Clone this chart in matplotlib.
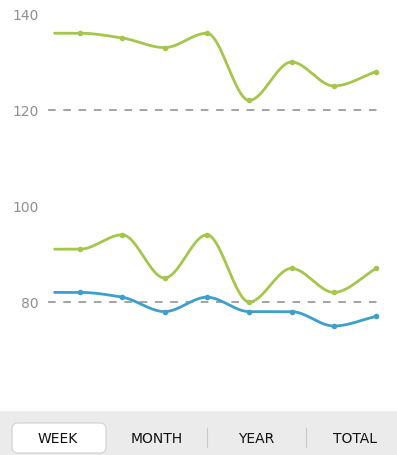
import numpy as np
import matplotlib.pyplot as plt
from matplotlib.patches import FancyBboxPatch, Rectangle

# data
x_idx = [0, 1, 2, 3, 4, 5, 6, 7]
upper_green = [136, 135, 133, 136, 122, 130, 125, 128]
lower_green = [91, 94, 85, 94, 80, 87, 82, 87]
blue = [82, 81, 78, 81, 78, 78, 75, 77]
y_ticks = [80, 100, 120, 140]
ref_lines = [80, 120]
tabs = ["WEEK", "MONTH", "YEAR", "TOTAL"]

GREEN = "#a4c64a"
BLUE = "#3d9fcc"
START = -0.6  # line starts a bit before the first point


def monotone(xs, ys, n=40):
    # Fritsch-Carlson monotone cubic, like d3 curveMonotoneX
    xs = np.asarray(xs, float)
    ys = np.asarray(ys, float)
    h = np.diff(xs)
    d = np.diff(ys) / h
    m = np.zeros_like(ys)
    m[0] = d[0]
    m[-1] = d[-1]
    for i in range(1, len(ys) - 1):
        if d[i - 1] * d[i] <= 0:
            m[i] = 0
        else:
            m[i] = 3 * (h[i - 1] + h[i]) / ((2 * h[i] + h[i - 1]) / d[i - 1] + (h[i] + 2 * h[i - 1]) / d[i])
    px, py = [], []
    for i in range(len(xs) - 1):
        t = np.linspace(0, 1, n)
        h00 = 2 * t**3 - 3 * t**2 + 1
        h10 = t**3 - 2 * t**2 + t
        h01 = -2 * t**3 + 3 * t**2
        h11 = t**3 - t**2
        px.extend(xs[i] + t * h[i])
        py.extend(h00 * ys[i] + h10 * h[i] * m[i] + h01 * ys[i + 1] + h11 * h[i] * m[i + 1])
    return np.array(px), np.array(py)


fig = plt.figure(figsize=(3.97, 4.56), dpi=100)
W, H = 397, 456

# axes in pixel space: x 48..385, y 0..405
ax = fig.add_axes([48 / W, (H - 405) / H, (385 - 48) / W, 405 / H])
ax.set_xlim(-0.757, 7.21)
ax.set_ylim(140 - 390 / 4.8, 140 + 15 / 4.8)

for v in ref_lines:
    ax.plot([-0.757, 7.05], [v, v], color="#8a8a8a", lw=1.1, dashes=(5, 5), zorder=1)

for ys, c in [(upper_green, GREEN), (lower_green, GREEN), (blue, BLUE)]:
    sx, sy = monotone([START] + x_idx, [ys[0]] + ys)
    ax.plot(sx, sy, color=c, lw=2, solid_capstyle="round", zorder=3)
    ax.plot(x_idx, ys, "o", color=c, ms=3, zorder=4)

ax.set_yticks(y_ticks)
ax.set_yticklabels([str(t) for t in y_ticks])
ax.tick_params(axis="y", length=0, pad=6.5, labelsize=10, labelcolor="#8f8f8f")
ax.set_xticks([])
for s in ax.spines.values():
    s.set_visible(False)

# tab bar at the bottom
bar = fig.add_axes([0, 0, 1, 44 / H])
bar.set_xlim(0, W)
bar.set_ylim(456, 412)
bar.axis("off")
bar.add_patch(Rectangle((0, 412), W, 44, color="#ebebeb", zorder=0))
bar.add_patch(FancyBboxPatch((12, 424), 94, 30, boxstyle="round,pad=0,rounding_size=6",
                             fc="white", ec="#d0d0d0", lw=0.8, zorder=1))
for sep in [207, 306]:
    bar.plot([sep, sep], [429, 448], color="#c8c8c8", lw=0.8, zorder=1)
for label, cx in zip(tabs, [58, 157, 256, 355]):
    bar.text(cx, 439, label, ha="center", va="center", fontsize=10, color="#111111", zorder=2)

fig.savefig("out.png", dpi=100)
